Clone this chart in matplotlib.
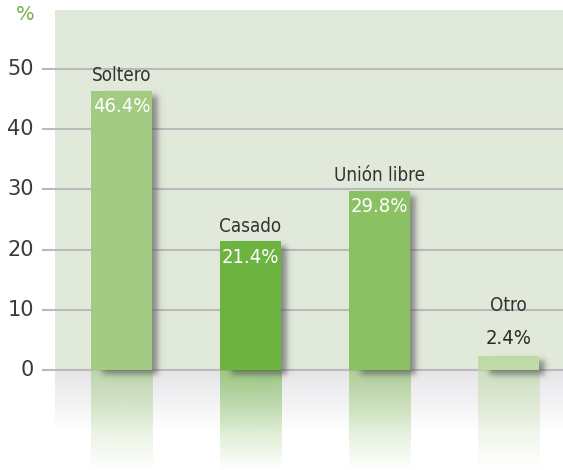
import numpy as np
import matplotlib
matplotlib.use('Agg')
import matplotlib.pyplot as plt

categories = ['Soltero', 'Casado', 'Unión libre', 'Otro']
values = [46.4, 21.4, 29.8, 2.4]
value_labels = ['46.4%', '21.4%', '29.8%', '2.4%']
bar_colors = ['#a3cb84', '#6cb33f', '#8bc063', '#bedba6']
yticks = [0, 10, 20, 30, 40, 50]

# pixel scale of the layout (data units -> px)
PX_X = 129.0
PX_Y = 6.02
BAR_W = 0.473


def smooth_box(t, a, b, s):
    return 0.5 * (np.tanh((t - a) / s) - np.tanh((t - b) / s))


def draw_shadow(ax, x0, x1, top):
    # drop shadow offset to the right / down, blurred
    dx, dy = 5 / PX_X, 5 / PX_Y
    sx, sy = 3.5 / PX_X, 3.5 / PX_Y
    mx, my = 14 / PX_X, 14 / PX_Y
    xs = np.linspace(x0 - mx, x1 + mx, 120)
    ys = np.linspace(top + my, -my - dy, 200)
    ax_ = smooth_box(xs, x0 + dx + 6 / PX_X, x1 + dx, sx)
    ay_ = smooth_box(ys, -dy, top - dy, sy)
    alpha = 0.62 * np.outer(ay_, ax_)
    img = np.zeros((len(ys), len(xs), 4))
    img[..., :3] = 0.32
    img[..., 3] = alpha
    ax.imshow(img, extent=[xs[0], xs[-1], ys[-1], ys[0]], aspect='auto',
              interpolation='bilinear', zorder=3)


def draw_fade(ax, x0, x1, y0, y1, color, a0, zorder):
    rgb = matplotlib.colors.to_rgb(color)
    n = 100
    img = np.zeros((n, 2, 4))
    img[..., :3] = rgb
    img[..., 3] = np.linspace(a0, 0, n)[:, None]
    ax.imshow(img, extent=[x0, x1, y1, y0], aspect='auto',
              interpolation='bilinear', zorder=zorder)


fig = plt.figure(figsize=(5.63, 4.70), dpi=100)
ax = fig.add_axes([0, 0, 1, 1])
x_lo, x_hi = -121.5 / PX_X, (563 - 121.5) / PX_X
y_hi, y_lo = 370 / PX_Y, -100 / PX_Y
ax.set_xlim(x_lo, x_hi)
ax.set_ylim(y_lo, y_hi)
ax.axis('off')

# background panel + its reflection below zero
panel_x0 = (55 - 121.5) / PX_X
ax.add_patch(plt.Rectangle((panel_x0, 0), x_hi - panel_x0, 360 / PX_Y,
                           color='#e1e9da', lw=0, zorder=0))
draw_fade(ax, panel_x0, x_hi, 0, -62 / PX_Y, '#dadadf', 0.7, zorder=0)

# grid lines
grid_x0 = (42 - 121.5) / PX_X
ax.hlines(yticks, grid_x0, x_hi, color='#b9b9be', lw=1.5, zorder=1)
for t in yticks:
    ax.text(grid_x0 - 8 / PX_X, t, str(t), ha='right', va='center',
            fontsize=15, color='#3a3a3a')
ax.text((25 - 121.5) / PX_X, 355 / PX_Y, '%', ha='center', va='center',
        fontsize=14, color='#6cb33f')

x = np.arange(len(categories))
for i, (cat, v, lab, c) in enumerate(zip(categories, values, value_labels, bar_colors)):
    x0, x1 = x[i] - BAR_W / 2, x[i] + BAR_W / 2
    draw_fade(ax, x0, x1, 0, y_lo, c, 0.6, zorder=2)
    draw_shadow(ax, x0, x1, v)

ax.bar(x, values, width=BAR_W, color=bar_colors, zorder=4)

cond = dict(family='DejaVu Sans', fontstretch='condensed')
for i, (cat, v, lab) in enumerate(zip(categories, values, value_labels)):
    if v > 5:
        ax.text(x[i], v - 16 / PX_Y, lab, ha='center', va='center',
                fontsize=14.5, color='white', zorder=5, **cond)
        ax.text(x[i], v + 15 / PX_Y, cat, ha='center', va='center',
                fontsize=13.5, color='#333333', zorder=5, **cond)
    else:
        ax.text(x[i], v + 17 / PX_Y, lab, ha='center', va='center',
                fontsize=14.5, color='#2a2a2a', zorder=5, **cond)
        ax.text(x[i], v + 50 / PX_Y, cat, ha='center', va='center',
                fontsize=13.5, color='#333333', zorder=5, **cond)

fig.savefig('out.png', dpi=100, facecolor='white')
